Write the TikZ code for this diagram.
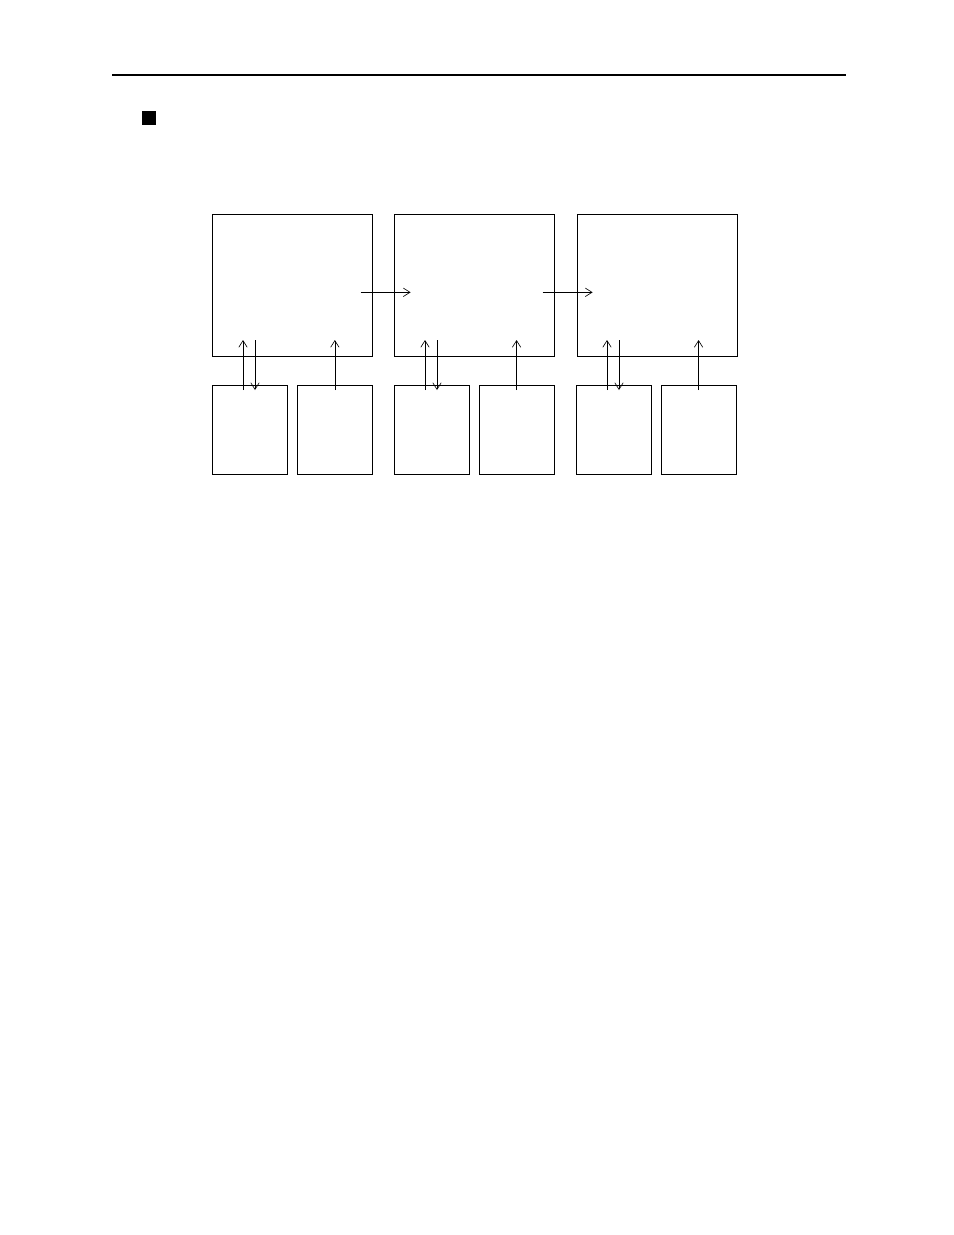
\documentclass[tikz,border=0pt]{standalone}
\usepackage{tikz}
\usetikzlibrary{calc, arrows.meta}
\tikzset{
  line width=0.7pt,
  >={Straight Barb[length=4.3pt,width=5.4pt]},
  bigbox/.style = {
    draw,
    anchor=north west,
    minimum width=102.64pt,
    minimum height=91.09pt,
    inner sep=0pt
  },
  smallbox/.style = {
    draw,
    anchor=north west,
    minimum width=47.79pt,
    minimum height=57.29pt,
    inner sep=0pt
  },
  bullet/.style = {
    fill=black,
    anchor=north west,
    minimum width=8.5pt,
    minimum height=9pt,
    inner sep=0pt
  }
}

\begin{document}
\begin{tikzpicture}[x=0.6415pt,y=-0.6415pt]

      \useasboundingbox (0,0) rectangle (954,1235);

      \draw[line width=1.5pt] (112,75) -- (846,75);
      \node[bullet] (mark) at (142,111) {};

      \node[bigbox] (p1) at (212,214) {};
      \node[bigbox] (p2) at (394,214) {};
      \node[bigbox] (p3) at (577,214) {};

      \node[smallbox] (a1) at (212,385) {};
      \node[smallbox] (b1) at (297.3,385) {};
      \node[smallbox] (a2) at (394,385) {};
      \node[smallbox] (b2) at (479,385) {};
      \node[smallbox] (a3) at (576,385) {};
      \node[smallbox] (b3) at (661,385) {};

      \draw[->] ($(p1.east)+(-12,7)$) -- ++(50,0);
      \draw[->] ($(p2.east)+(-12,7)$) -- ++(50,0);

      \draw[->] ($(a1.north west)+(31,5)$) -- ++(0,-50);
      \draw[->] ($(a1.north west)+(43,-45)$) -- ++(0,50);
      \draw[->] ($(b1.north)+(0,5)$) -- ++(0,-50);

      \draw[->] ($(a2.north west)+(31,5)$) -- ++(0,-50);
      \draw[->] ($(a2.north west)+(43,-45)$) -- ++(0,50);
      \draw[->] ($(b2.north)+(0,5)$) -- ++(0,-50);

      \draw[->] ($(a3.north west)+(31,5)$) -- ++(0,-50);
      \draw[->] ($(a3.north west)+(43,-45)$) -- ++(0,50);
      \draw[->] ($(b3.north)+(0,5)$) -- ++(0,-50);
    \end{tikzpicture}
\end{document}
